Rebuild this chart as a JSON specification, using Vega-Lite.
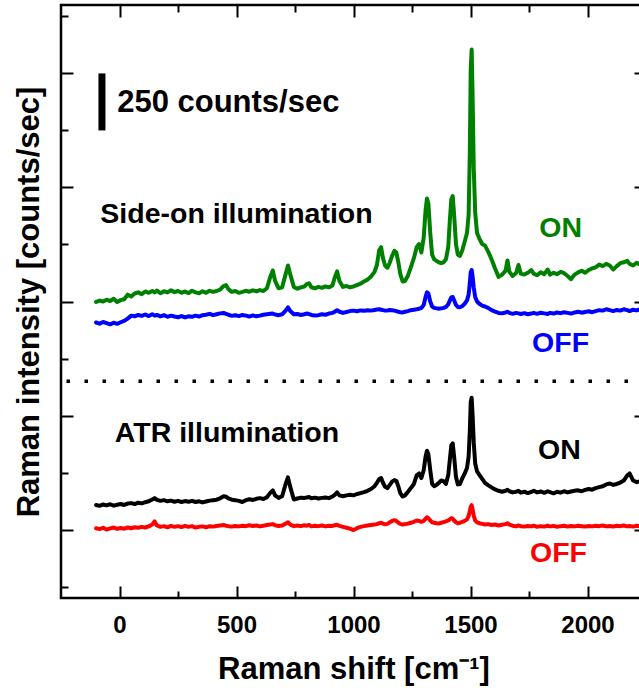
{
  "$schema": "https://vega.github.io/schema/vega-lite/v6.json",
  "width": 585,
  "height": 593,
  "autosize": {"type": "none"},
  "padding": {"left": 61, "top": 5, "right": -7, "bottom": 90},
  "background": "white",
  "config": {
    "view": {"stroke": "black", "strokeWidth": 2.5},
    "font": "Liberation Sans",
    "axis": {"domain": false, "grid": false, "tickColor": "black", "tickWidth": 2, "labelColor": "black", "titleColor": "black"}
  },
  "datasets": {
    "spectra": [
      {"x":-100,"g":998,"b":908,"k":108,"r":6},
      {"x":-85,"g":1004,"b":903,"k":104,"r":2},
      {"x":-70,"g":1000,"b":910,"k":110,"r":8},
      {"x":-55,"g":1008,"b":905,"k":106,"r":0},
      {"x":-40,"g":1002,"b":900,"k":111,"r":5},
      {"x":-25,"g":1012,"b":907,"k":105,"r":9},
      {"x":-10,"g":998,"b":902,"k":109,"r":3},
      {"x":5,"g":1006,"b":909,"k":112,"r":7},
      {"x":20,"g":1010,"b":915,"k":108,"r":4},
      {"x":35,"g":1030,"b":925,"k":114,"r":9},
      {"x":50,"g":1022,"b":938,"k":116,"r":6},
      {"x":65,"g":1035,"b":935,"k":112,"r":10},
      {"x":80,"g":1040,"b":941,"k":118,"r":8},
      {"x":95,"g":1032,"b":937,"k":115,"r":12},
      {"x":110,"g":1044,"b":943,"k":120,"r":9},
      {"x":125,"g":1038,"b":936,"k":124,"r":14},
      {"x":140,"g":1046,"b":944,"k":132,"r":22},
      {"x":150,"g":1040,"b":938,"k":138,"r":36},
      {"x":160,"g":1048,"b":941,"k":130,"r":18},
      {"x":175,"g":1036,"b":935,"k":126,"r":12},
      {"x":190,"g":1045,"b":940,"k":129,"r":15},
      {"x":205,"g":1040,"b":933,"k":124,"r":10},
      {"x":220,"g":1049,"b":938,"k":127,"r":16},
      {"x":235,"g":1041,"b":934,"k":122,"r":12},
      {"x":250,"g":1046,"b":931,"k":126,"r":15},
      {"x":265,"g":1038,"b":936,"k":121,"r":11},
      {"x":280,"g":1044,"b":930,"k":125,"r":16},
      {"x":295,"g":1037,"b":935,"k":122,"r":12},
      {"x":310,"g":1047,"b":933,"k":126,"r":15},
      {"x":325,"g":1040,"b":938,"k":121,"r":9},
      {"x":340,"g":1036,"b":934,"k":124,"r":12},
      {"x":355,"g":1045,"b":940,"k":119,"r":14},
      {"x":370,"g":1038,"b":942,"k":123,"r":10},
      {"x":385,"g":1047,"b":946,"k":127,"r":15},
      {"x":400,"g":1042,"b":940,"k":129,"r":13},
      {"x":415,"g":1046,"b":944,"k":131,"r":16},
      {"x":430,"g":1052,"b":948,"k":137,"r":18},
      {"x":445,"g":1068,"b":950,"k":146,"r":20},
      {"x":455,"g":1072,"b":946,"k":144,"r":17},
      {"x":465,"g":1055,"b":942,"k":137,"r":15},
      {"x":480,"g":1042,"b":937,"k":131,"r":13},
      {"x":495,"g":1046,"b":940,"k":129,"r":16},
      {"x":510,"g":1038,"b":936,"k":126,"r":14},
      {"x":525,"g":1042,"b":941,"k":121,"r":17},
      {"x":540,"g":1047,"b":938,"k":129,"r":15},
      {"x":555,"g":1043,"b":934,"k":133,"r":19},
      {"x":570,"g":1049,"b":939,"k":130,"r":16},
      {"x":585,"g":1044,"b":935,"k":135,"r":18},
      {"x":600,"g":1050,"b":938,"k":138,"r":14},
      {"x":615,"g":1046,"b":942,"k":134,"r":17},
      {"x":630,"g":1058,"b":944,"k":142,"r":20},
      {"x":645,"g":1110,"b":946,"k":162,"r":22},
      {"x":655,"g":1136,"b":947,"k":172,"r":24},
      {"x":665,"g":1090,"b":943,"k":150,"r":19},
      {"x":680,"g":1058,"b":940,"k":139,"r":16},
      {"x":695,"g":1062,"b":944,"k":146,"r":18},
      {"x":710,"g":1120,"b":960,"k":200,"r":26},
      {"x":720,"g":1158,"b":974,"k":229,"r":32},
      {"x":730,"g":1118,"b":958,"k":186,"r":22},
      {"x":745,"g":1064,"b":944,"k":132,"r":15},
      {"x":760,"g":1056,"b":945,"k":136,"r":18},
      {"x":775,"g":1062,"b":941,"k":140,"r":15},
      {"x":790,"g":1066,"b":944,"k":138,"r":19},
      {"x":800,"g":1076,"b":947,"k":141,"r":17},
      {"x":810,"g":1080,"b":945,"k":143,"r":20},
      {"x":820,"g":1062,"b":941,"k":137,"r":14},
      {"x":835,"g":1058,"b":939,"k":140,"r":17},
      {"x":850,"g":1064,"b":940,"k":136,"r":15},
      {"x":865,"g":1060,"b":944,"k":139,"r":18},
      {"x":880,"g":1066,"b":942,"k":141,"r":14},
      {"x":895,"g":1062,"b":947,"k":138,"r":17},
      {"x":910,"g":1070,"b":950,"k":145,"r":16},
      {"x":920,"g":1105,"b":955,"k":152,"r":19},
      {"x":930,"g":1132,"b":962,"k":163,"r":21},
      {"x":940,"g":1090,"b":955,"k":150,"r":16},
      {"x":955,"g":1064,"b":950,"k":146,"r":12},
      {"x":970,"g":1068,"b":954,"k":150,"r":8},
      {"x":985,"g":1062,"b":958,"k":153,"r":4},
      {"x":1000,"g":1066,"b":960,"k":150,"r":-2},
      {"x":1015,"g":1072,"b":957,"k":156,"r":6},
      {"x":1030,"g":1078,"b":961,"k":160,"r":12},
      {"x":1045,"g":1088,"b":959,"k":164,"r":15},
      {"x":1060,"g":1096,"b":962,"k":170,"r":18},
      {"x":1075,"g":1110,"b":960,"k":178,"r":20},
      {"x":1090,"g":1130,"b":963,"k":190,"r":22},
      {"x":1100,"g":1160,"b":965,"k":205,"r":24},
      {"x":1110,"g":1225,"b":966,"k":222,"r":28},
      {"x":1118,"g":1238,"b":964,"k":226,"r":30},
      {"x":1126,"g":1190,"b":962,"k":205,"r":26},
      {"x":1135,"g":1158,"b":960,"k":188,"r":23},
      {"x":1145,"g":1148,"b":961,"k":182,"r":25},
      {"x":1155,"g":1170,"b":963,"k":196,"r":32},
      {"x":1165,"g":1200,"b":962,"k":210,"r":38},
      {"x":1175,"g":1222,"b":960,"k":217,"r":41},
      {"x":1183,"g":1215,"b":958,"k":214,"r":38},
      {"x":1192,"g":1170,"b":955,"k":188,"r":30},
      {"x":1200,"g":1120,"b":953,"k":160,"r":25},
      {"x":1210,"g":1088,"b":952,"k":145,"r":22},
      {"x":1220,"g":1090,"b":955,"k":150,"r":24},
      {"x":1232,"g":1112,"b":958,"k":165,"r":26},
      {"x":1245,"g":1150,"b":962,"k":182,"r":30},
      {"x":1258,"g":1190,"b":964,"k":200,"r":34},
      {"x":1270,"g":1238,"b":966,"k":238,"r":40},
      {"x":1280,"g":1252,"b":968,"k":246,"r":38},
      {"x":1290,"g":1215,"b":972,"k":226,"r":34},
      {"x":1300,"g":1280,"b":985,"k":260,"r":38},
      {"x":1308,"g":1400,"b":1020,"k":320,"r":48},
      {"x":1314,"g":1452,"b":1040,"k":346,"r":54},
      {"x":1320,"g":1430,"b":1035,"k":330,"r":50},
      {"x":1328,"g":1300,"b":1000,"k":260,"r":40},
      {"x":1336,"g":1205,"b":978,"k":200,"r":32},
      {"x":1345,"g":1185,"b":972,"k":190,"r":30},
      {"x":1355,"g":1178,"b":970,"k":196,"r":28},
      {"x":1365,"g":1172,"b":968,"k":205,"r":27},
      {"x":1375,"g":1168,"b":970,"k":215,"r":30},
      {"x":1385,"g":1172,"b":972,"k":212,"r":33},
      {"x":1395,"g":1185,"b":976,"k":200,"r":36},
      {"x":1405,"g":1240,"b":988,"k":240,"r":40},
      {"x":1412,"g":1360,"b":1005,"k":310,"r":45},
      {"x":1418,"g":1448,"b":1018,"k":370,"r":50},
      {"x":1424,"g":1462,"b":1020,"k":378,"r":48},
      {"x":1430,"g":1380,"b":1005,"k":320,"r":40},
      {"x":1438,"g":1250,"b":985,"k":230,"r":32},
      {"x":1446,"g":1205,"b":976,"k":198,"r":28},
      {"x":1455,"g":1200,"b":975,"k":200,"r":30},
      {"x":1465,"g":1225,"b":980,"k":225,"r":34},
      {"x":1475,"g":1262,"b":990,"k":245,"r":38},
      {"x":1485,"g":1300,"b":1005,"k":270,"r":45},
      {"x":1492,"g":1380,"b":1030,"k":320,"r":60},
      {"x":1497,"g":1650,"b":1080,"k":430,"r":80},
      {"x":1501,"g":2020,"b":1128,"k":560,"r":100},
      {"x":1505,"g":2105,"b":1138,"k":578,"r":107},
      {"x":1509,"g":1900,"b":1110,"k":500,"r":88},
      {"x":1514,"g":1580,"b":1060,"k":380,"r":60},
      {"x":1520,"g":1390,"b":1020,"k":290,"r":40},
      {"x":1528,"g":1300,"b":1000,"k":255,"r":32},
      {"x":1538,"g":1275,"b":990,"k":240,"r":28},
      {"x":1550,"g":1252,"b":982,"k":222,"r":25},
      {"x":1562,"g":1245,"b":978,"k":205,"r":22},
      {"x":1575,"g":1220,"b":972,"k":195,"r":24},
      {"x":1590,"g":1185,"b":962,"k":185,"r":20},
      {"x":1605,"g":1145,"b":956,"k":176,"r":22},
      {"x":1620,"g":1108,"b":950,"k":170,"r":18},
      {"x":1635,"g":1118,"b":948,"k":166,"r":21},
      {"x":1650,"g":1135,"b":952,"k":170,"r":24},
      {"x":1658,"g":1180,"b":955,"k":174,"r":28},
      {"x":1666,"g":1130,"b":950,"k":168,"r":22},
      {"x":1680,"g":1112,"b":946,"k":163,"r":17},
      {"x":1695,"g":1125,"b":950,"k":166,"r":14},
      {"x":1705,"g":1160,"b":948,"k":170,"r":18},
      {"x":1715,"g":1122,"b":945,"k":162,"r":15},
      {"x":1730,"g":1118,"b":949,"k":166,"r":13},
      {"x":1745,"g":1126,"b":944,"k":160,"r":16},
      {"x":1760,"g":1138,"b":947,"k":165,"r":14},
      {"x":1770,"g":1122,"b":950,"k":170,"r":17},
      {"x":1785,"g":1115,"b":946,"k":163,"r":12},
      {"x":1800,"g":1128,"b":951,"k":167,"r":15},
      {"x":1815,"g":1120,"b":948,"k":161,"r":13},
      {"x":1830,"g":1140,"b":945,"k":168,"r":17},
      {"x":1840,"g":1118,"b":950,"k":164,"r":14},
      {"x":1855,"g":1126,"b":947,"k":159,"r":16},
      {"x":1870,"g":1120,"b":952,"k":166,"r":12},
      {"x":1885,"g":1130,"b":949,"k":162,"r":15},
      {"x":1900,"g":1124,"b":953,"k":168,"r":17},
      {"x":1915,"g":1112,"b":950,"k":163,"r":13},
      {"x":1930,"g":1098,"b":947,"k":167,"r":16},
      {"x":1945,"g":1118,"b":952,"k":170,"r":14},
      {"x":1960,"g":1128,"b":955,"k":172,"r":17},
      {"x":1975,"g":1135,"b":951,"k":168,"r":15},
      {"x":1990,"g":1126,"b":954,"k":174,"r":13},
      {"x":2005,"g":1138,"b":957,"k":178,"r":16},
      {"x":2020,"g":1145,"b":953,"k":175,"r":14},
      {"x":2035,"g":1150,"b":958,"k":182,"r":17},
      {"x":2050,"g":1162,"b":962,"k":186,"r":15},
      {"x":2065,"g":1155,"b":960,"k":190,"r":18},
      {"x":2080,"g":1165,"b":966,"k":198,"r":14},
      {"x":2095,"g":1158,"b":962,"k":202,"r":16},
      {"x":2110,"g":1140,"b":958,"k":196,"r":13},
      {"x":2125,"g":1155,"b":963,"k":200,"r":17},
      {"x":2140,"g":1168,"b":960,"k":206,"r":15},
      {"x":2155,"g":1172,"b":966,"k":215,"r":18},
      {"x":2170,"g":1178,"b":962,"k":238,"r":14},
      {"x":2180,"g":1165,"b":958,"k":246,"r":16},
      {"x":2195,"g":1158,"b":964,"k":215,"r":13},
      {"x":2210,"g":1170,"b":961,"k":208,"r":17},
      {"x":2225,"g":1162,"b":966,"k":212,"r":15},
      {"x":2240,"g":1168,"b":962,"k":210,"r":14},
      {"x":2250,"g":1165,"b":964,"k":214,"r":16}
    ],
    "one": [{}]
  },
  "layer": [
    {
      "data": {"name": "spectra"},
      "transform": [{"fold": ["g", "b", "k", "r"], "as": ["series", "intensity"]}],
      "mark": {"type": "line", "strokeWidth": 4, "strokeJoin": "round", "strokeCap": "round"},
      "encoding": {
        "x": {
          "field": "x", "type": "quantitative",
          "scale": {"domain": [-250, 2250], "nice": false, "zero": false},
          "axis": {
            "orient": "bottom",
            "values": [0, 250, 500, 750, 1000, 1250, 1500, 1750, 2000],
            "format": "d",
            "labelExpr": "datum.value % 500 === 0 ? datum.label : ''",
            "tickSize": {"condition": {"test": "datum.value % 500 === 0", "value": -12}, "value": -7},
            "labelFont": "Liberation Sans", "labelFontSize": 24, "labelFontWeight": "bold",
            "labelPadding": 27, "labelFlush": false, "labelOverlap": false,
            "title": "Raman shift [cm⁻¹]",
            "titleFont": "Liberation Sans", "titleFontSize": 31, "titleFontWeight": "bold", "titlePadding": 12
          }
        },
        "y": {
          "field": "intensity", "type": "quantitative",
          "scale": {"domain": [-300, 2300], "nice": false, "zero": false},
          "axis": {
            "orient": "left",
            "values": [-250, 0, 250, 500, 750, 1000, 1250, 1500, 1750, 2000, 2250],
            "labels": false,
            "tickSize": {"condition": {"test": "datum.value % 500 === 0", "value": -12}, "value": -7},
            "title": "Raman intensity [counts/sec]",
            "titleFont": "Liberation Sans", "titleFontSize": 31, "titleFontWeight": "bold", "titlePadding": 15
          }
        },
        "color": {
          "field": "series", "type": "nominal",
          "scale": {"domain": ["g", "b", "k", "r"], "range": ["#008000", "#0000ff", "#000000", "#ff0000"]},
          "legend": null
        }
      }
    },
    {
      "data": {"name": "spectra"},
      "transform": [{"fold": ["g", "b", "k", "r"], "as": ["series", "intensity"]}],
      "mark": {"type": "line", "strokeOpacity": 0},
      "encoding": {
        "x": {
          "field": "x", "type": "quantitative",
          "axis": {
            "orient": "top",
            "values": [0, 250, 500, 750, 1000, 1250, 1500, 1750, 2000],
            "labels": false,
            "tickSize": {"condition": {"test": "datum.value % 500 === 0", "value": -12}, "value": -7},
            "title": null
          }
        },
        "y": {
          "field": "intensity", "type": "quantitative",
          "axis": {
            "orient": "right",
            "values": [-250, 0, 250, 500, 750, 1000, 1250, 1500, 1750, 2000, 2250],
            "labels": false,
            "tickSize": {"condition": {"test": "datum.value % 500 === 0", "value": -12}, "value": -7},
            "title": null
          }
        },
        "detail": {"field": "series", "type": "nominal"}
      }
    },
    {
      "data": {"name": "one"},
      "mark": {"type": "rule", "color": "black", "strokeWidth": 3.5, "strokeDash": [3.5, 14.5]},
      "encoding": {"y": {"datum": 650, "type": "quantitative", "axis": null}}
    },
    {
      "data": {"name": "one"},
      "mark": {"type": "rule", "color": "black", "strokeWidth": 7},
      "encoding": {
        "x": {"datum": -75, "type": "quantitative", "axis": null},
        "y": {"datum": 1750, "type": "quantitative", "axis": null},
        "y2": {"datum": 2000}
      }
    },
    {
      "data": {"name": "one"},
      "mark": {"type": "text", "text": "250 counts/sec", "align": "left", "baseline": "middle", "fontSize": 31, "fontWeight": "bold", "font": "Liberation Sans", "color": "black"},
      "encoding": {"x": {"datum": -10, "type": "quantitative", "axis": null}, "y": {"datum": 1870, "type": "quantitative", "axis": null}}
    },
    {
      "data": {"name": "one"},
      "mark": {"type": "text", "text": "Side-on illumination", "align": "left", "baseline": "middle", "fontSize": 28.5, "fontWeight": "bold", "font": "Liberation Sans", "color": "black"},
      "encoding": {"x": {"datum": -82, "type": "quantitative", "axis": null}, "y": {"datum": 1383, "type": "quantitative", "axis": null}}
    },
    {
      "data": {"name": "one"},
      "mark": {"type": "text", "text": "ATR illumination", "align": "left", "baseline": "middle", "fontSize": 28.5, "fontWeight": "bold", "font": "Liberation Sans", "color": "black"},
      "encoding": {"x": {"datum": -20, "type": "quantitative", "axis": null}, "y": {"datum": 423, "type": "quantitative", "axis": null}}
    },
    {
      "data": {"name": "one"},
      "mark": {"type": "text", "text": "ON", "align": "center", "baseline": "middle", "fontSize": 28.5, "fontWeight": "bold", "font": "Liberation Sans", "color": "#008000"},
      "encoding": {"x": {"datum": 1885, "type": "quantitative", "axis": null}, "y": {"datum": 1322, "type": "quantitative", "axis": null}}
    },
    {
      "data": {"name": "one"},
      "mark": {"type": "text", "text": "OFF", "align": "center", "baseline": "middle", "fontSize": 28.5, "fontWeight": "bold", "font": "Liberation Sans", "color": "#0000ff"},
      "encoding": {"x": {"datum": 1885, "type": "quantitative", "axis": null}, "y": {"datum": 818, "type": "quantitative", "axis": null}}
    },
    {
      "data": {"name": "one"},
      "mark": {"type": "text", "text": "ON", "align": "center", "baseline": "middle", "fontSize": 28.5, "fontWeight": "bold", "font": "Liberation Sans", "color": "#000000"},
      "encoding": {"x": {"datum": 1880, "type": "quantitative", "axis": null}, "y": {"datum": 348, "type": "quantitative", "axis": null}}
    },
    {
      "data": {"name": "one"},
      "mark": {"type": "text", "text": "OFF", "align": "center", "baseline": "middle", "fontSize": 28.5, "fontWeight": "bold", "font": "Liberation Sans", "color": "#ff0000"},
      "encoding": {"x": {"datum": 1876, "type": "quantitative", "axis": null}, "y": {"datum": -104, "type": "quantitative", "axis": null}}
    }
  ],
  "resolve": {"axis": {"x": "independent", "y": "independent"}}
}
